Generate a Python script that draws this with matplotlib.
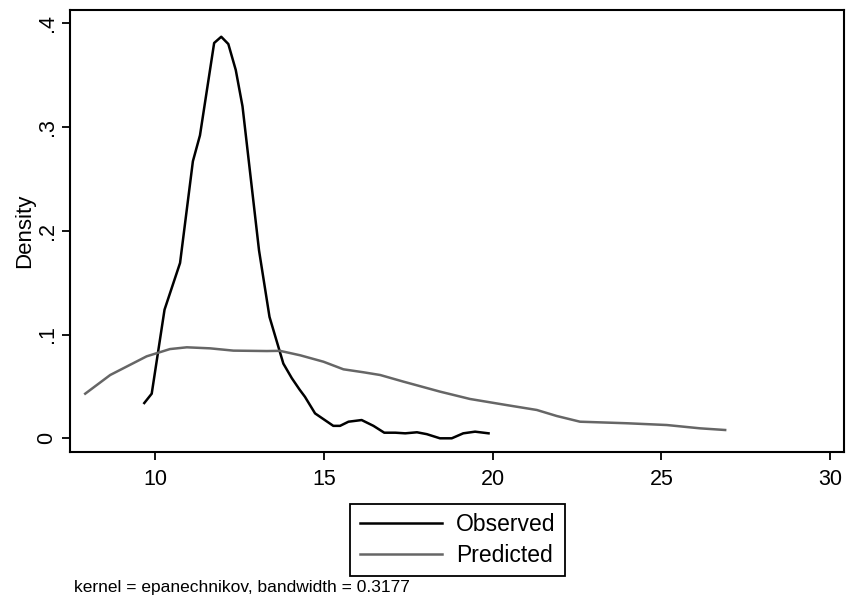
import matplotlib
matplotlib.use('Agg')
import matplotlib.pyplot as plt

plt.rcParams['font.family'] = ['Liberation Sans', 'DejaVu Sans']

# Observed density (black)
obs_x = [9.68, 9.90, 10.28, 10.74, 11.12, 11.33, 11.75, 11.96, 12.17, 12.39, 12.59,
         13.08, 13.39, 13.80, 14.05, 14.28, 14.44, 14.74, 15.28, 15.48, 15.73, 16.12,
         16.47, 16.79, 17.12, 17.41, 17.76, 18.05, 18.44, 18.79, 19.13, 19.48, 19.88]
obs_y = [0.034, 0.043, 0.124, 0.169, 0.267, 0.292, 0.381, 0.387, 0.380, 0.355, 0.320,
         0.181, 0.117, 0.072, 0.058, 0.047, 0.040, 0.024, 0.012, 0.012, 0.016, 0.0176,
         0.012, 0.0054, 0.0054, 0.0048, 0.0058, 0.004, 0.0, 0.0, 0.0048, 0.0064, 0.0048]

# Predicted density (gray)
pred_x = [7.93, 8.67, 9.75, 10.44, 10.94, 11.63, 12.32, 13.31, 13.70, 14.30, 14.99,
          15.58, 16.18, 16.67, 17.36, 18.44, 19.33, 20.42, 21.31, 21.90, 22.59, 23.98,
          25.16, 26.15, 26.89]
pred_y = [0.043, 0.061, 0.079, 0.086, 0.0877, 0.0867, 0.0845, 0.0841, 0.0843, 0.080, 0.0738,
          0.0665, 0.0636, 0.061, 0.0546, 0.045, 0.0379, 0.032, 0.0273, 0.0215, 0.016, 0.0145,
          0.0128, 0.0096, 0.008]

x_ticks = [10, 15, 20, 25, 30]
y_ticks = [0, 0.1, 0.2, 0.3, 0.4]
y_labels = ['0', '.1', '.2', '.3', '.4']

fig = plt.figure(figsize=(8.53, 6.09), dpi=100)
ax = fig.add_axes([0.0821, 0.2578, 0.9073, 0.7258])

ax.plot(obs_x, obs_y, color='black', lw=1.8, label='Observed')
ax.plot(pred_x, pred_y, color='#666666', lw=1.8, label='Predicted')

ax.set_xlim(7.48, 30.41)
ax.set_ylim(-0.0132, 0.4128)
ax.set_xticks(x_ticks)
ax.set_xticklabels([str(t) for t in x_ticks])
ax.set_yticks(y_ticks)
ax.set_yticklabels(y_labels, rotation=90, va='center')
ax.tick_params(direction='out', length=6, width=1.3, labelsize=15.5, pad=6)
ax.tick_params(axis='y', pad=3)
for s in ax.spines.values():
    s.set_linewidth(1.5)

ax.set_ylabel('Density', fontsize=16, labelpad=1)

fig.legend(loc='center', bbox_to_anchor=(0.5363, 0.1138), fontsize=16.5,
           frameon=True, fancybox=False, edgecolor='black', framealpha=1,
           handlelength=3.6, handletextpad=0.6, borderpad=0.4, labelspacing=0.35)
leg = fig.legends[0]
leg.get_frame().set_linewidth(1.3)

fig.text(0.0865, 0.035, 'kernel = epanechnikov, bandwidth = 0.3177', fontsize=12.5,
         va='center', ha='left')

fig.savefig('out.png', dpi=100)
